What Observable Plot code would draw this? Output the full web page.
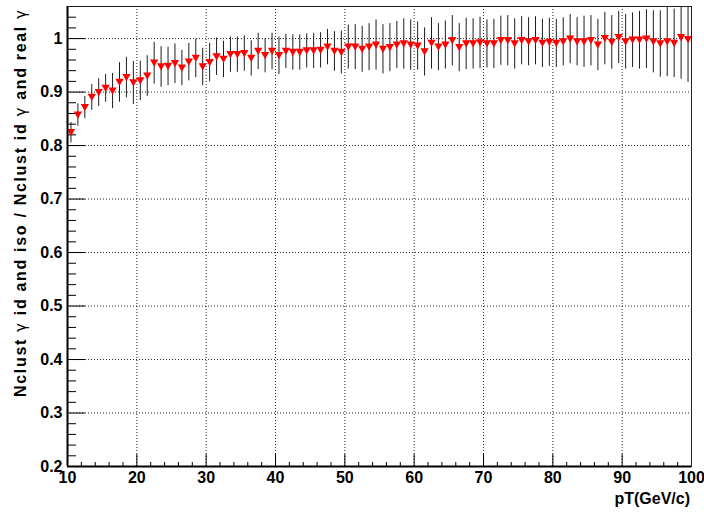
<!DOCTYPE html>
<html><head><meta charset="utf-8">
<script src="https://cdn.jsdelivr.net/npm/d3@7"></script>
<script src="https://cdn.jsdelivr.net/npm/@observablehq/plot@0.6"></script>
<style>body{margin:0;background:#fff} #chart{width:704px;height:514px}</style>
</head><body><div id="chart"></div>
<script>
// bin centres (GeV/c)
const pT = [10.5,11.5,12.5,13.5,14.5,15.5,16.5,17.5,18.5,19.5,
20.5,21.5,22.5,23.5,24.5,25.5,26.5,27.5,28.5,29.5,
30.5,31.5,32.5,33.5,34.5,35.5,36.5,37.5,38.5,39.5,
40.5,41.5,42.5,43.5,44.5,45.5,46.5,47.5,48.5,49.5,
50.5,51.5,52.5,53.5,54.5,55.5,56.5,57.5,58.5,59.5,
60.5,61.5,62.5,63.5,64.5,65.5,66.5,67.5,68.5,69.5,
70.5,71.5,72.5,73.5,74.5,75.5,76.5,77.5,78.5,79.5,
80.5,81.5,82.5,83.5,84.5,85.5,86.5,87.5,88.5,89.5,
90.5,91.5,92.5,93.5,94.5,95.5,96.5,97.5,98.5,99.5];
// efficiency ratio
const ratio = [0.824,0.857,0.871,0.890,0.899,0.907,0.902,0.918,0.927,0.917,
0.921,0.930,0.954,0.947,0.948,0.953,0.945,0.956,0.963,0.947,
0.955,0.966,0.961,0.970,0.970,0.972,0.963,0.976,0.968,0.976,
0.968,0.976,0.974,0.974,0.977,0.977,0.978,0.984,0.976,0.974,
0.984,0.984,0.980,0.984,0.988,0.980,0.983,0.988,0.990,0.988,
0.986,0.975,0.991,0.984,0.988,0.996,0.983,0.990,0.990,0.992,
0.990,0.990,0.996,0.996,0.990,0.996,0.994,0.996,0.991,0.993,
0.991,0.994,0.999,0.994,0.994,0.996,0.988,1.000,0.993,1.002,
0.994,0.997,0.997,0.999,0.994,0.990,0.994,0.991,1.002,0.998];
// statistical error (half-length)
const err = [0.019,0.021,0.021,0.024,0.026,0.026,0.033,0.037,0.038,0.040,
0.037,0.038,0.039,0.038,0.036,0.037,0.033,0.035,0.036,0.035,
0.036,0.035,0.034,0.033,0.033,0.033,0.033,0.034,0.032,0.034,
0.035,0.032,0.033,0.033,0.032,0.033,0.033,0.033,0.037,0.040,
0.041,0.042,0.043,0.044,0.047,0.046,0.045,0.044,0.047,0.047,
0.045,0.045,0.048,0.044,0.045,0.047,0.045,0.048,0.047,0.048,
0.045,0.046,0.046,0.047,0.047,0.045,0.045,0.045,0.045,0.045,
0.045,0.045,0.046,0.045,0.048,0.047,0.048,0.049,0.050,0.049,
0.051,0.051,0.054,0.055,0.058,0.062,0.065,0.064,0.078,0.080];

const xDomain = [10, 100];
const yDomain = [0.2, 1.06];
const xTicks = [10,20,30,40,50,60,70,80,90,100];
const xMinor = [12,14,16,18,22,24,26,28,32,34,36,38,42,44,46,48,52,54,56,58,62,64,66,68,72,74,76,78,82,84,86,88,92,94,96,98];
const yTicks = [0.2,0.3,0.4,0.5,0.6,0.7,0.8,0.9,1.0];
const yMinor = [0.22,0.24,0.26,0.28,0.32,0.34,0.36,0.38,0.42,0.44,0.46,0.48,0.52,0.54,0.56,0.58,0.62,0.64,0.66,0.68,0.72,0.74,0.76,0.78,0.82,0.84,0.86,0.88,0.92,0.94,0.96,0.98,1.02,1.04];
const xTitle = "pT(GeV/c)";
const yTitleParts = ["Nclust ", "γ", " id and iso / Nclust id ", "γ", " and real ", "γ"];

const W = 704, H = 514, mL = 67, mR = 13, mT = 6, mB = 48;
const innerW = W - mL - mR, innerH = H - mT - mB;
const font = "'Liberation Sans', Arial, Helvetica, sans-serif";

const rows = pT.map((x, i) => ({x, y: ratio[i], lo: ratio[i] - err[i], hi: ratio[i] + err[i]}));

const downTriangle = {
  draw(ctx, size) {
    const r = Math.sqrt(size / Math.PI);
    const a = r * 1.25, b = r * 1.1;
    ctx.moveTo(-a, -b);
    ctx.lineTo(a, -b);
    ctx.lineTo(0, b);
    ctx.closePath();
  }
};

const grid = {stroke: "#000", strokeOpacity: 0.85, strokeDasharray: "1,2", strokeWidth: 1};

const chart = Plot.plot({
  width: W, height: H,
  marginLeft: mL, marginRight: mR, marginTop: mT, marginBottom: mB,
  style: {fontFamily: font, fontSize: "16px", fontWeight: "bold", background: "#fff", color: "#000"},
  x: {domain: xDomain},
  y: {domain: yDomain},
  marks: [
    Plot.gridX(xTicks.slice(1, -1), grid),
    Plot.gridY(yTicks.slice(1), grid),
    Plot.tickY(yMinor, {y: d => d, insetRight: innerW - 9, stroke: "#000"}),
    Plot.tickY(yTicks, {y: d => d, insetRight: innerW - 18, stroke: "#000"}),
    Plot.tickX(xMinor, {x: d => d, insetTop: innerH - 4, stroke: "#000"}),
    Plot.tickX(xTicks, {x: d => d, insetTop: innerH - 12, stroke: "#000"}),
    Plot.axisX(xTicks, {tickSize: 0, tickPadding: 5, label: null, fontSize: 16, fontWeight: "bold"}),
    Plot.axisY(yTicks, {tickSize: 0, tickPadding: 5, label: null, tickFormat: d3.format("~g"), fontSize: 16, fontWeight: "bold"}),
    Plot.ruleX(rows, {x: "x", y1: "lo", y2: "hi", stroke: "#1e1e1e", strokeWidth: 1, clip: true}),
    Plot.dot(rows, {x: "x", y: "y", symbol: downTriangle, r: 3.3, fill: "#ff0000", stroke: "none", clip: true}),
    Plot.frame({stroke: "#222", strokeWidth: 1}),
    Plot.ruleX([xDomain[0]], {stroke: "#000", strokeWidth: 2}),
    Plot.ruleY([yDomain[0]], {stroke: "#000", strokeWidth: 2})
  ]
});
document.getElementById("chart").appendChild(chart);

const svg = d3.select(chart);
const yt = svg.append("text")
  .attr("transform", "translate(26,10) rotate(-90)")
  .attr("text-anchor", "end")
  .attr("textLength", 387)
  .attr("lengthAdjust", "spacing")
  .attr("fill", "#000")
  .style("font-family", font).style("font-size", "16px").style("font-weight", "bold");
yTitleParts.forEach(p => {
  const ts = yt.append("tspan").text(p);
  if (p === "γ") ts.style("font-weight", "normal").style("font-family", "'DejaVu Sans', sans-serif").style("font-size", "15px");
});
svg.append("text")
  .attr("x", 690).attr("y", 504)
  .attr("text-anchor", "end")
  .attr("fill", "#000")
  .style("font-family", font).style("font-size", "16px").style("font-weight", "bold")
  .text(xTitle);
</script>
</body></html>
